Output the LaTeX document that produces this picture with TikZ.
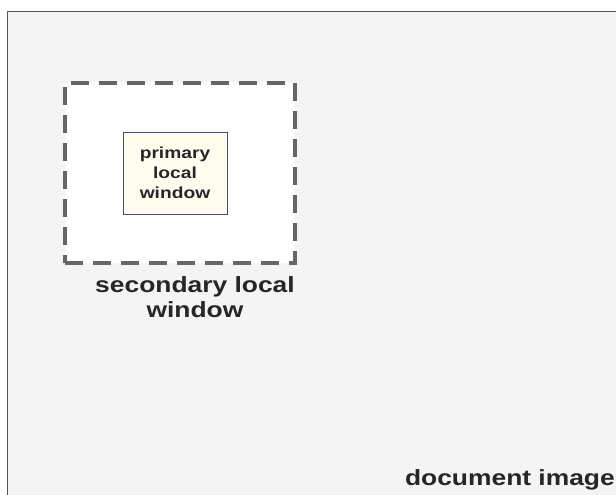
\documentclass[tikz,border=0pt]{standalone}
\usepackage{fontspec}
\setmainfont{Liberation Sans}
\newfontfamily\lblfont[FakeStretch=1.2]{Liberation Sans}
\usetikzlibrary{positioning}
\definecolor{pagegray}{HTML}{F4F4F4}
\definecolor{framegray}{HTML}{555555}
\definecolor{dashgray}{HTML}{666666}
\definecolor{boxcream}{HTML}{FFFDF0}
\definecolor{boxedge}{HTML}{4A4A70}
\tikzset{
  lbl/.style={font=\lblfont\bfseries\fontsize{22}{25}\selectfont, align=center, text=black!85, inner sep=0pt},
  secbox/.style={draw=dashgray, fill=white, line width=3.5pt, dash pattern=on 18pt off 10pt, inner sep=0pt},
  primbox/.style={draw=boxedge, fill=boxcream, line width=1pt, align=center, text=black!85,
    font=\lblfont\bfseries\fontsize{16}{20}\selectfont, inner sep=0pt}
}

\begin{document}
\begin{tikzpicture}[x=1pt,y=-1pt]
\useasboundingbox (0,0) rectangle (616,495);
\fill[white] (0,0) rectangle (616,495);
\coordinate (P) at (7.5,11.5);
\coordinate (Q) at (617,496);
\fill[pagegray] (P) rectangle (Q);
\draw[framegray, line width=1.5pt] (P |- Q) -- (P) -- (P -| Q);
\node[secbox, minimum width=230pt, minimum height=180pt] (sec) at (180,173) {};
\node[primbox, minimum width=104pt, minimum height=82pt] (prim) at (175,173) {primary\\local\\window};
\node[lbl, below=12pt of sec, xshift=15pt] (seclbl) {secondary local\\window};
\node[lbl, anchor=base east] (doc) at (615,485) {document image};
\end{tikzpicture}
\end{document}
